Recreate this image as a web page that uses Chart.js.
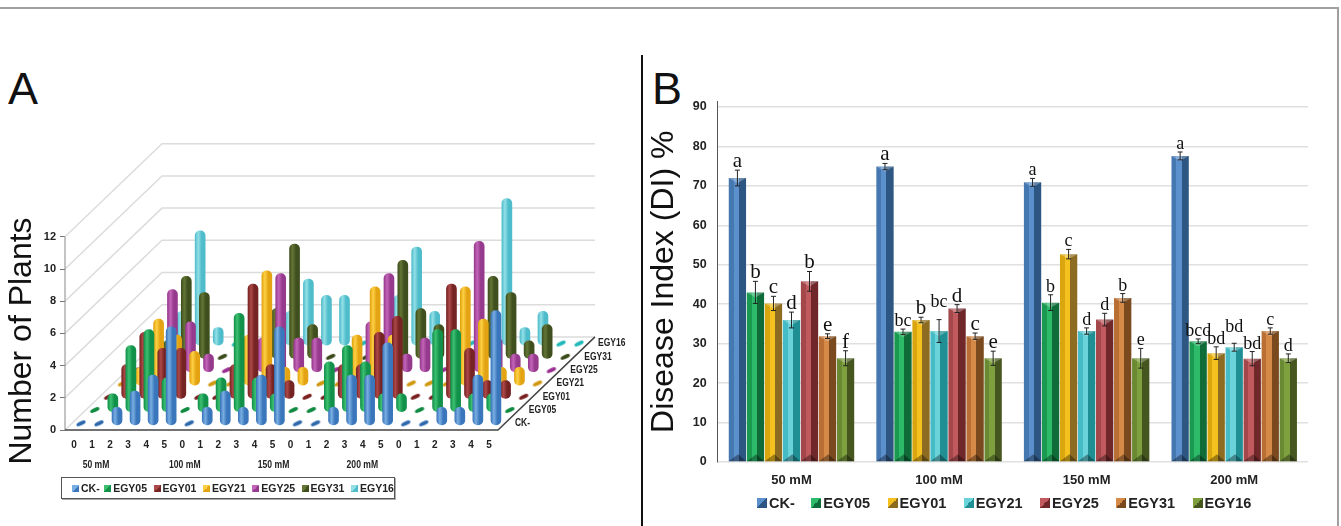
<!DOCTYPE html>
<html>
<head>
<meta charset="utf-8">
<title>Number of Plants and Disease Index</title>
<script src="https://cdn.jsdelivr.net/npm/chart.js@4"></script>
<style>
  html, body { margin: 0; padding: 0; background: #fff; overflow: hidden; }
  body { width: 1341px; height: 526px; position: relative; font-family: "Liberation Sans", Arial, sans-serif; }
  canvas { position: absolute; }
  #chartA { left: 0; top: 55px; }
  #chartB { left: 643px; top: 55px; }
  .frame-top { position: absolute; left: 0; top: 7px; width: 1339px; height: 2px; background: #a0a0a0; }
  .frame-right { position: absolute; left: 1337px; top: 7px; width: 2px; height: 519px; background: #a0a0a0; }
  .divider { position: absolute; left: 641px; top: 55px; width: 2px; height: 471px; background: #111; }
  .panel-letter { position: absolute; font-size: 45px; line-height: 45px; color: #111; }
  .legend { position: absolute; display: flex; align-items: center; color: #222; font-weight: bold; }
  #legendA { left: 61px; top: 477px; width: 332px; height: 20px; border: 1px solid #555; box-shadow: 1px 1px 0 #aaa; font-size: 10.5px; }
  #legendB { left: 757px; top: 494px; height: 18px; font-size: 14.5px; }
  .legend span { display: flex; align-items: center; white-space: nowrap; }
  .legend i { display: block; }
  #legendA span { margin-right: 6.5px; }
  #legendA span:first-child { margin-left: 10px; margin-right: 4.5px; }
  #legendA i { width: 7px; height: 7px; margin-right: 2px; }
  #legendB span { margin-right: 17.5px; }
  #legendB span:first-child { margin-right: 16.5px; }
  #legendB i { width: 10px; height: 10px; margin-right: 2px; }
</style>
</head>
<body>
<div class="frame-top"></div>
<div class="frame-right"></div>
<div class="divider"></div>
<div class="panel-letter" style="left:8px;top:66px">A</div>
<div class="panel-letter" style="left:652px;top:66px">B</div>
<canvas id="chartA" width="640" height="471"></canvas>
<canvas id="chartB" width="698" height="471"></canvas>
<div class="legend" id="legendA"></div>
<div class="legend" id="legendB"></div>

<script>
// Panel A: number of plants per disease class (0-5), one value per class and salt level
const classLabels = ['0','1','2','3','4','5','0','1','2','3','4','5','0','1','2','3','4','5','0','1','2','3','4','5'];
const saltLevels = ['50 mM', '100 mM', '150 mM', '200 mM'];
const seriesNamesA = ['CK-', 'EGY05', 'EGY01', 'EGY21', 'EGY25', 'EGY31', 'EGY16'];
const plantsCK = [0,0,1,2,3,6, 0,1,2,1,3,6, 0,0,1,3,3,5, 0,0,1,1,3,7];
const plantsEGY05 = [0,1,4,5,2,0, 1,2,6,2,1,0, 0,3,4,3,1,1, 0,5,5,1,1,0];
const plantsEGY01 = [0,2,4,3,3,0, 0,2,7,2,1,0, 0,2,2,4,5,0, 0,7,3,1,1,0];
const plantsEGY21 = [0,1,4,3,2,0, 0,3,7,1,1,0, 0,3,6,3,0,0, 0,6,4,1,1,0];
const plantsEGY25 = [0,1,5,3,1,0, 0,2,6,2,2,0, 0,3,6,1,2,0, 0,8,2,1,1,0];
const plantsEGY31 = [0,1,5,4,0,0, 0,3,7,2,0,0, 0,0,6,3,2,0, 0,5,4,1,2,0];
const plantsEGY16 = [0,2,7,1,0,0, 0,2,4,3,3,0, 0,3,6,2,0,0, 0,9,1,2,0,0];
const plantsA = [plantsCK, plantsEGY05, plantsEGY01, plantsEGY21, plantsEGY25, plantsEGY31, plantsEGY16];
const yTicksA = [0, 2, 4, 6, 8, 10, 12];

// Panel B: disease index with error bars and significance letters
const seriesNamesB = ['CK-', 'EGY05', 'EGY01', 'EGY21', 'EGY25', 'EGY31', 'EGY16'];
const indexCK = [72, 74.9, 70.9, 77.6];
const indexEGY05 = [43, 33, 40.4, 30.6];
const indexEGY01 = [40.2, 36, 52.7, 27.6];
const indexEGY21 = [36, 33.2, 33.2, 29.1];
const indexEGY25 = [45.8, 38.9, 36.1, 26.2];
const indexEGY31 = [31.9, 31.9, 41.6, 33.2];
const indexEGY16 = [26.3, 26.3, 26.3, 26.3];
const indexB = [indexCK, indexEGY05, indexEGY01, indexEGY21, indexEGY25, indexEGY31, indexEGY16];
const errorsB = [
  [2, 0.8, 1, 1],
  [2.8, 0.7, 2, 0.6],
  [1.8, 0.7, 1.2, 1.6],
  [2, 2.9, 0.8, 1],
  [2.5, 1, 1.6, 1.8],
  [0.6, 0.8, 1.1, 0.8],
  [1.9, 1.8, 2.5, 1.1]
];
const lettersB = [
  ['a', 'a', 'a', 'a'],
  ['b', 'bc', 'b', 'bcd'],
  ['c', 'b', 'c', 'bd'],
  ['d', 'bc', 'd', 'bd'],
  ['b', 'd', 'd', 'bd'],
  ['e', 'c', 'b', 'c'],
  ['f', 'e', 'e', 'd']
];
const yTicksB = [0, 10, 20, 30, 40, 50, 60, 70, 80, 90];

// Colours
const lightA = ['#79aee2', '#3cc070', '#ad4848', '#fdd044', '#c264b8', '#647536', '#93dfe6'];
const darkA = ['#3a76bb', '#12914a', '#762323', '#e3a312', '#963a8d', '#3f4f1d', '#4fbccb'];
const markerA = ['#2d68ad', '#0f8a40', '#7a1f1f', '#d0980f', '#9a2f92', '#3a4a1a', '#20b8b8'];
const midB = ['#4577b0', '#1a9a50', '#d9a60f', '#45bcc5', '#a4474b', '#b96f33', '#698a32'];
const lightB = ['#5c90cc', '#2dbb6a', '#f4c11e', '#6ad3da', '#c05a5e', '#d58a48', '#7ea03f'];
const darkB = ['#2d5682', '#0f6b38', '#8d6c22', '#1f8f94', '#6f272a', '#7a4a1e', '#46561f'];

const TICK_FONT = 'Liberation Sans';
const TEXT_COLOR = '#222';

// Oblique projection of panel A, in axis units: one depth row moves this far right and up
const ROWS = plantsA.length;
const ROW_DX = 0.768;
const ROW_DY = 0.826;
const CATS = classLabels.length;
const X_MAX = CATS + ROWS * ROW_DX;
const Y_MAX = 18;

function rowX(i, row) { return i + 0.5 + (row + 0.5) * ROW_DX; }
function rowY(row) { return (row + 0.5) * ROW_DY; }

function flatMarker(color) {
  const c = document.createElement('canvas');
  c.width = 14;
  c.height = 8;
  const g = c.getContext('2d');
  g.fillStyle = color;
  g.beginPath();
  g.ellipse(7, 4, 5, 2, -0.42, 0, Math.PI * 2);
  g.fill();
  return c;
}

// The reference text is squeezed sideways, so draw it tall and narrow
function narrowText(ctx, text, x, y, squeeze) {
  ctx.fillText(text, x, y, ctx.measureText(text).width * squeeze);
}

// Build a floating bar dataset and a flat marker dataset per row, front row first so it sits on top
const datasetsA = [];
plantsA.forEach((values, row) => {
  const bars = [];
  const zeros = [];
  values.forEach((v, i) => {
    if (v > 0) {
      bars.push({ x: rowX(i, row), y: [rowY(row) - 0.1, rowY(row) + v] });
    } else {
      zeros.push({ x: rowX(i, row), y: rowY(row) });
    }
  });
  datasetsA.push({
    type: 'bar',
    label: seriesNamesA[row],
    data: bars,
    grouped: false,
    barThickness: 10,
    borderRadius: 5,
    borderSkipped: false,
    borderWidth: 0,
    backgroundColor: function(ctx) {
      if (!ctx.raw) return darkA[row];
      const px = ctx.chart.scales.x.getPixelForValue(ctx.raw.x);
      if (!Number.isFinite(px)) return darkA[row];
      const grad = ctx.chart.ctx.createLinearGradient(px - 5, 0, px + 5, 0);
      grad.addColorStop(0, darkA[row]);
      grad.addColorStop(0.3, lightA[row]);
      grad.addColorStop(0.65, darkA[row]);
      grad.addColorStop(1, darkA[row]);
      return grad;
    }
  });
  datasetsA.push({
    type: 'scatter',
    label: seriesNamesA[row] + ' zero',
    data: zeros,
    pointStyle: flatMarker(markerA[row]),
    pointRadius: 5
  });
});

// Draws the walls and floor lines of the 3D box behind the bars
const boxPlugin = {
  id: 'box',
  beforeDatasetsDraw(chart) {
    const { ctx, scales: { x, y } } = chart;
    const backX = ROWS * ROW_DX;
    const backY = ROWS * ROW_DY;
    ctx.save();
    ctx.lineWidth = 1.5;
    ctx.strokeStyle = '#dcdcdc';
    yTicksA.forEach(v => {
      ctx.beginPath();
      ctx.moveTo(x.getPixelForValue(0), y.getPixelForValue(v));
      ctx.lineTo(x.getPixelForValue(backX), y.getPixelForValue(v + backY));
      ctx.lineTo(x.getPixelForValue(CATS + backX), y.getPixelForValue(v + backY));
      ctx.stroke();
    });
    // y axis only runs up to the last tick
    ctx.lineWidth = 1;
    ctx.strokeStyle = '#888';
    ctx.beginPath();
    ctx.moveTo(x.getPixelForValue(0), y.getPixelForValue(0));
    ctx.lineTo(x.getPixelForValue(0), y.getPixelForValue(yTicksA[yTicksA.length - 1]));
    ctx.stroke();
    ctx.lineWidth = 1.5;
    ctx.strokeStyle = '#444';
    ctx.beginPath();
    ctx.moveTo(x.getPixelForValue(0), y.getPixelForValue(0));
    ctx.lineTo(x.getPixelForValue(CATS), y.getPixelForValue(0));
    ctx.lineTo(x.getPixelForValue(CATS + backX), y.getPixelForValue(backY));
    ctx.stroke();
    ctx.restore();
  },
  afterDraw(chart) {
    const { ctx, scales: { x, y } } = chart;
    ctx.save();
    ctx.fillStyle = TEXT_COLOR;

    // Row names along the right floor edge
    ctx.font = 'bold 10px "' + TICK_FONT + '"';
    ctx.textBaseline = 'middle';
    seriesNamesA.forEach((name, row) => {
      narrowText(ctx, name, x.getPixelForValue(CATS + rowX(0, row) - 0.5) + 10, y.getPixelForValue(rowY(row)), 0.85);
    });

    // Salt levels under the class labels
    ctx.font = 'bold 11px "' + TICK_FONT + '"';
    ctx.textAlign = 'center';
    saltLevels.forEach((label, k) => {
      narrowText(ctx, label, x.getPixelForValue(1.72 + k * 4.92), y.getPixelForValue(0) + 35, 0.78);
    });

    // Axis title, it sits lower than the plot centre
    ctx.translate(22, 286);
    ctx.rotate(-Math.PI / 2);
    ctx.font = '32px "' + TICK_FONT + '"';
    ctx.fillStyle = '#111';
    ctx.fillText('Number of Plants', 0, 0);
    ctx.restore();
  }
};

new Chart(document.getElementById('chartA'), {
  type: 'bar',
  data: { datasets: datasetsA },
  plugins: [boxPlugin],
  options: {
    responsive: false,
    animation: false,
    devicePixelRatio: 1,
    layout: { padding: { top: 85.2, right: 45, bottom: 0, left: 0 } },
    plugins: { legend: { display: false }, tooltip: { enabled: false } },
    scales: {
      x: {
        type: 'linear',
        offset: false,
        min: 0,
        max: X_MAX,
        grid: { display: false },
        border: { display: false },
        afterBuildTicks: axis => { axis.ticks = classLabels.map((_, i) => ({ value: i + 0.5 })); },
        afterFit: axis => { axis.height = 96; },
        ticks: {
          autoSkip: false,
          maxRotation: 0,
          padding: 1,
          color: TEXT_COLOR,
          font: { family: TICK_FONT, size: 10, weight: 'bold' },
          callback: value => classLabels[Math.floor(value)]
        }
      },
      y: {
        type: 'linear',
        min: 0,
        max: Y_MAX,
        grid: { drawOnChartArea: false, tickLength: 5, color: '#777' },
        border: { display: false },
        afterBuildTicks: axis => { axis.ticks = yTicksA.map(value => ({ value })); },
        afterFit: axis => { axis.width = 65; },
        ticks: {
          padding: 4,
          color: TEXT_COLOR,
          font: { family: TICK_FONT, size: 11, weight: 'bold' }
        }
      }
    }
  }
});

// Bevels, error bars and letters for panel B
const LETTER_LIFT = { '0-5': 1, '0-6': 4, '1-5': 4, '3-1': 10, '3-3': 8 };

const barDetailPlugin = {
  id: 'barDetail',
  afterDatasetsDraw(chart) {
    const { ctx, scales: { y } } = chart;
    ctx.save();
    chart.data.datasets.forEach((ds, s) => {
      chart.getDatasetMeta(s).data.forEach((bar, g) => {
        const half = bar.width / 2;

        // top and bottom bevel of the bar
        ctx.fillStyle = 'rgba(255,255,255,0.28)';
        ctx.beginPath();
        ctx.moveTo(bar.x - half, bar.y);
        ctx.lineTo(bar.x + half, bar.y);
        ctx.lineTo(bar.x, bar.y + half * 0.6);
        ctx.fill();
        ctx.fillStyle = 'rgba(0,0,0,0.35)';
        ctx.beginPath();
        ctx.moveTo(bar.x - half, bar.base);
        ctx.lineTo(bar.x + half, bar.base);
        ctx.lineTo(bar.x + half * 0.1, bar.base - half * 0.8);
        ctx.fill();

        // error bar
        const err = errorsB[s][g];
        const top = y.getPixelForValue(indexB[s][g] + err);
        const low = y.getPixelForValue(indexB[s][g] - err);
        ctx.strokeStyle = '#222';
        ctx.lineWidth = 1;
        ctx.beginPath();
        ctx.moveTo(bar.x, top);
        ctx.lineTo(bar.x, low);
        ctx.moveTo(bar.x - 2.5, top);
        ctx.lineTo(bar.x + 2.5, top);
        ctx.moveTo(bar.x - 2.5, low);
        ctx.lineTo(bar.x + 2.5, low);
        ctx.stroke();

        // significance letter
        const letter = lettersB[s][g];
        const size = (g < 2 && letter.length === 1) ? 21 : 18;
        ctx.font = size + 'px "Liberation Serif"';
        ctx.fillStyle = '#111';
        ctx.textAlign = 'center';
        ctx.textBaseline = 'alphabetic';
        ctx.fillText(letter, bar.x, top - 3 - (LETTER_LIFT[s + '-' + g] || 0));
      });
    });
    ctx.restore();
  }
};

const CATEGORY_PCT = 0.855;
const BAR_PCT = 0.96;

new Chart(document.getElementById('chartB'), {
  type: 'bar',
  data: {
    labels: saltLevels,
    datasets: indexB.map((values, s) => ({
      label: seriesNamesB[s],
      data: values,
      categoryPercentage: CATEGORY_PCT,
      barPercentage: BAR_PCT,
      borderWidth: 0,
      backgroundColor: function(ctx) {
        // the bar element has no position yet when this runs, so work it out from the scale
        const xScale = ctx.chart.scales.x;
        if (ctx.dataIndex === undefined || !xScale || !xScale.width) return midB[s];
        const pitch = xScale.width / saltLevels.length * CATEGORY_PCT / indexB.length;
        const width = pitch * BAR_PCT;
        const left = xScale.getPixelForValue(ctx.dataIndex) + (s - (indexB.length - 1) / 2) * pitch - width / 2;
        if (!Number.isFinite(left)) return midB[s];
        const grad = ctx.chart.ctx.createLinearGradient(left, 0, left + width, 0);
        grad.addColorStop(0, midB[s]);
        grad.addColorStop(0.28, midB[s]);
        grad.addColorStop(0.28, lightB[s]);
        grad.addColorStop(0.58, lightB[s]);
        grad.addColorStop(0.58, darkB[s]);
        grad.addColorStop(1, darkB[s]);
        return grad;
      }
    }))
  },
  plugins: [barDetailPlugin],
  options: {
    responsive: false,
    animation: false,
    devicePixelRatio: 1,
    layout: { padding: { top: 46.5, right: 33, bottom: 0, left: 0 } },
    plugins: { legend: { display: false }, tooltip: { enabled: false } },
    scales: {
      x: {
        grid: { display: false },
        border: { display: false },
        afterFit: axis => { axis.height = 64; },
        ticks: {
          padding: 3,
          color: TEXT_COLOR,
          font: { family: TICK_FONT, size: 13, weight: 'bold' }
        }
      },
      y: {
        min: 0,
        max: 91.4,
        title: {
          display: true,
          text: 'Disease Index (DI) %',
          color: '#111',
          padding: { top: 2, bottom: 0 },
          font: { family: TICK_FONT, size: 32 }
        },
        grid: { color: '#e0e0e0', lineWidth: 1.5, drawTicks: false },
        border: { color: '#555' },
        afterBuildTicks: axis => { axis.ticks = yTicksB.map(value => ({ value })); },
        afterFit: axis => { axis.width = 74.7; },
        ticks: {
          padding: 11,
          color: TEXT_COLOR,
          font: { family: TICK_FONT, size: 12.5, weight: 'bold' }
        }
      }
    }
  }
});

// Legends for both panels
function buildLegend(id, names, light, dark) {
  const box = document.getElementById(id);
  names.forEach((name, s) => {
    const item = document.createElement('span');
    const swatch = document.createElement('i');
    swatch.style.background = 'linear-gradient(135deg, ' + light[s] + ' 50%, ' + dark[s] + ' 50%)';
    item.appendChild(swatch);
    item.appendChild(document.createTextNode(name));
    box.appendChild(item);
  });
}

buildLegend('legendA', seriesNamesA, lightA, darkA);
buildLegend('legendB', seriesNamesB, lightB, darkB);
</script>
</body>
</html>
